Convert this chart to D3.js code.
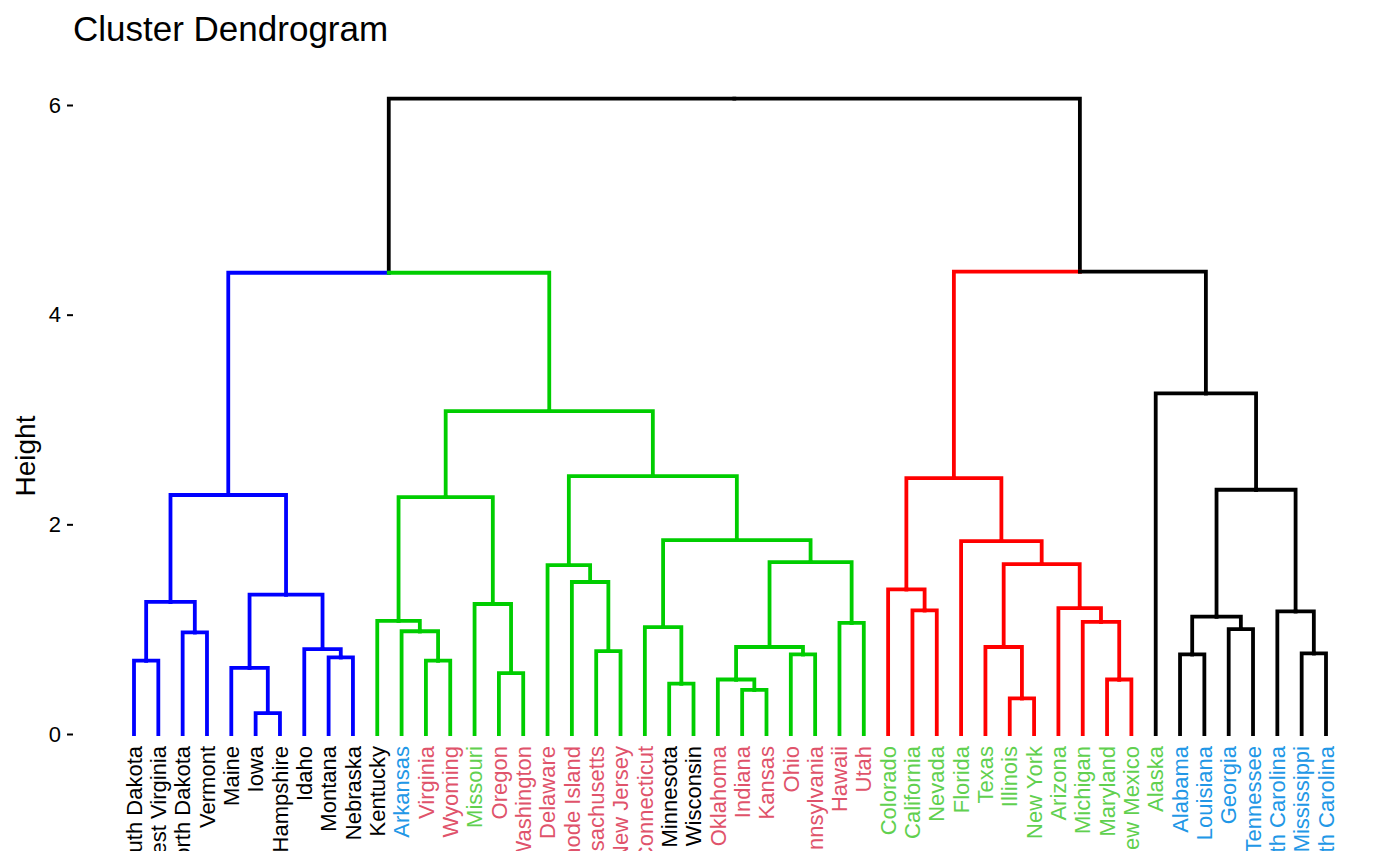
<!DOCTYPE html>
<html>
<head>
	<title>Cluster Dendrogram</title>
	<script src="https://d3js.org/d3.v7.min.js"></script>
	<style>
		body { margin: 0; background: #fff; }
		text { font-family: "Liberation Sans", Arial, Helvetica, sans-serif; }
		.axis .domain { display: none; }
		.axis line { stroke: #000; stroke-width: 2; }
		.axis text { fill: #000; font-size: 22px; }
		.branch { fill: none; stroke-width: 3.8; stroke-linecap: square; }
	</style>
</head>
<body>
	<svg width="1400" height="866"></svg>
<script type="text/javascript">

// leaf order, left to right
var states = ["South Dakota", "West Virginia", "North Dakota", "Vermont", "Maine", "Iowa",
	"New Hampshire", "Idaho", "Montana", "Nebraska", "Kentucky", "Arkansas", "Virginia",
	"Wyoming", "Missouri", "Oregon", "Washington", "Delaware", "Rhode Island", "Massachusetts",
	"New Jersey", "Connecticut", "Minnesota", "Wisconsin", "Oklahoma", "Indiana", "Kansas",
	"Ohio", "Pennsylvania", "Hawaii", "Utah", "Colorado", "California", "Nevada", "Florida",
	"Texas", "Illinois", "New York", "Arizona", "Michigan", "Maryland", "New Mexico", "Alaska",
	"Alabama", "Louisiana", "Georgia", "Tennessee", "North Carolina", "Mississippi", "South Carolina"];

// label colour group for each leaf (same order as states)
var labelGroup = [0, 0, 0, 0, 0, 0, 0, 0, 0, 0, 0, 3, 1, 1, 2, 1, 1, 1, 1, 1,
	1, 1, 0, 0, 1, 1, 1, 1, 1, 1, 1, 2, 2, 2, 2, 2, 2, 2, 2, 2,
	2, 2, 2, 3, 3, 3, 3, 3, 3, 3];
var labelPalette = ["#000000", "#DF536B", "#61D04F", "#2297E6"];

// merges: [left, right, height]; a number refers to an earlier merge
var merges = [
	["Iowa", "New Hampshire", 0.20],      // 0
	["Maine", 0, 0.63],                   // 1
	["Montana", "Nebraska", 0.73],        // 2
	["Idaho", 2, 0.81],                   // 3
	["South Dakota", "West Virginia", 0.70], // 4
	["North Dakota", "Vermont", 0.97],    // 5
	[4, 5, 1.26],                         // 6
	[1, 3, 1.33],                         // 7
	[6, 7, 2.28],                         // 8
	["Virginia", "Wyoming", 0.70],        // 9
	["Arkansas", 9, 0.98],                // 10
	["Kentucky", 10, 1.08],               // 11
	["Oregon", "Washington", 0.58],       // 12
	["Missouri", 12, 1.24],               // 13
	[11, 13, 2.26],                       // 14
	["Massachusetts", "New Jersey", 0.79],// 15
	["Rhode Island", 15, 1.45],           // 16
	["Delaware", 16, 1.61],               // 17
	["Minnesota", "Wisconsin", 0.48],     // 18
	["Connecticut", 18, 1.02],            // 19
	["Indiana", "Kansas", 0.42],          // 20
	["Oklahoma", 20, 0.52],               // 21
	["Ohio", "Pennsylvania", 0.76],       // 22
	[21, 22, 0.83],                       // 23
	["Hawaii", "Utah", 1.06],             // 24
	[23, 24, 1.64],                       // 25
	[19, 25, 1.85],                       // 26
	[17, 26, 2.46],                       // 27
	[14, 27, 3.08],                       // 28
	[8, 28, 4.40],                        // 29
	["California", "Nevada", 1.18],       // 30
	["Colorado", 30, 1.38],               // 31
	["Illinois", "New York", 0.34],       // 32
	["Texas", 32, 0.83],                  // 33
	["Maryland", "New Mexico", 0.52],     // 34
	["Michigan", 34, 1.07],               // 35
	["Arizona", 35, 1.20],                // 36
	[33, 36, 1.62],                       // 37
	["Florida", 37, 1.84],                // 38
	[31, 38, 2.44],                       // 39
	["Alabama", "Louisiana", 0.76],       // 40
	["Georgia", "Tennessee", 1.00],       // 41
	[40, 41, 1.12],                       // 42
	["Mississippi", "South Carolina", 0.77], // 43
	["North Carolina", 43, 1.17],         // 44
	[42, 44, 2.33],                       // 45
	["Alaska", 45, 3.25],                 // 46
	[39, 46, 4.41],                       // 47
	[29, 47, 6.06]                        // 48
];

var k = 4;
var clusterColors = ["#0000FF", "#00CD00", "#FF0000", "#000000"];
var yTicks = [0, 2, 4, 6];

// build nested tree from merges
var built = [];
merges.forEach(function (m, i) {
	function ref(r) { return typeof r === "number" ? built[r] : { name: r, h: 0 }; }
	built[i] = { h: m[2], children: [ref(m[0]), ref(m[1])] };
});
var root = d3.hierarchy(built[built.length - 1]);

var svg = d3.select("svg");

var x = d3.scalePoint()
	.domain(states)
	.range([134, 1326]);
var y = d3.scaleLinear()
	.domain([0, 6])
	.range([734, 105]);

// positions: leaves on the point scale, nodes midway between children
root.eachAfter(function (d) {
	if (d.children) d.px = (d.children[0].px + d.children[1].px) / 2;
	else d.px = x(d.data.name);
	d.py = y(d.data.h);
});

// cut tree into k clusters: the k-1 highest merges stay above the cut
var sortedH = merges.map(function (m) { return m[2]; }).sort(d3.descending);
var cutH = (sortedH[k - 2] + sortedH[k - 1]) / 2;
var clusterIdx = 0;
root.eachBefore(function (d) {
	if (d.data.h > cutH) { d.color = "#000000"; return; }
	if (d.parent && d.parent.color && d.parent.data.h <= cutH) { d.color = d.parent.color; return; }
	d.color = clusterColors[clusterIdx++];
});

// branches
var g = svg.append("g");
g.selectAll("path.branch")
	.data(root.links())
	.enter().append("path")
	.attr("class", "branch")
	.attr("stroke", function (d) { return d.target.color; })
	.attr("d", function (d) {
		return "M" + d.source.px + "," + d.source.py +
			"H" + d.target.px + "V" + d.target.py;
	});

// y axis
svg.append("g")
	.attr("class", "axis")
	.attr("transform", "translate(73,0)")
	.call(d3.axisLeft(y).tickValues(yTicks).tickSize(6).tickPadding(6).tickFormat(d3.format("d")));

svg.append("text")
	.attr("transform", "translate(35,456) rotate(-90)")
	.attr("text-anchor", "middle")
	.attr("font-size", 28)
	.text("Height");

svg.append("text")
	.attr("x", 73)
	.attr("y", 41)
	.attr("font-size", 35)
	.text("Cluster Dendrogram");

// leaf labels, cut at the bottom like the original
svg.append("clipPath").attr("id", "lab-clip")
	.append("rect").attr("x", 0).attr("y", 0).attr("width", 1400).attr("height", 851);

svg.append("g")
	.attr("clip-path", "url(#lab-clip)")
	.selectAll("text")
	.data(states)
	.enter().append("text")
	.attr("transform", function (d) { return "translate(" + x(d) + ",746) rotate(-90)"; })
	.attr("text-anchor", "end")
	.attr("dy", "0.35em")
	.attr("font-size", 22)
	.attr("fill", function (d, i) { return labelPalette[labelGroup[i]]; })
	.text(function (d) { return d; });

</script>
</body>
</html>
